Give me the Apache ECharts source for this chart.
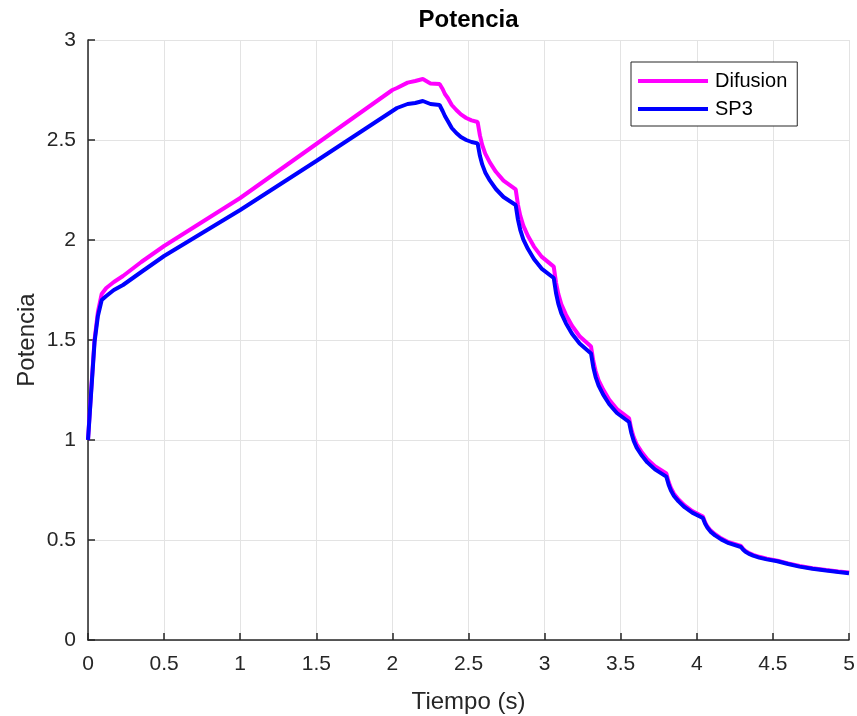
<!DOCTYPE html>
<html>
<head>
<meta charset="utf-8">
<script src="https://cdn.jsdelivr.net/npm/echarts@6/dist/echarts.min.js"></script>
<style>
html,body{margin:0;padding:0;background:#fff;}
#main{width:857px;height:716px;}
</style>
</head>
<body>
<div id="main"></div>
<script>
// Time samples (s)
var tiempo = [0, 0.02, 0.043, 0.065, 0.09, 0.12, 0.17, 0.23, 0.35, 0.5, 0.75, 1.0, 1.5, 2.0, 2.03, 2.1, 2.15, 2.2, 2.25, 2.31,
  2.33, 2.345, 2.364, 2.39, 2.42, 2.45, 2.485, 2.52, 2.56,
  2.575, 2.59, 2.61, 2.64, 2.68, 2.73, 2.81,
  2.825, 2.84, 2.86, 2.89, 2.93, 2.98, 3.06,
  3.075, 3.09, 3.11, 3.14, 3.18, 3.23, 3.305,
  3.32, 3.335, 3.355, 3.385, 3.425, 3.475, 3.555,
  3.57, 3.585, 3.605, 3.635, 3.675, 3.725, 3.80,
  3.815, 3.83, 3.85, 3.88, 3.92, 3.97, 4.04,
  4.055, 4.07, 4.09, 4.12, 4.16, 4.21, 4.29,
  4.305, 4.32, 4.34, 4.37, 4.41, 4.46, 4.53,
  4.6, 4.675, 4.76, 4.85, 4.93, 5.0];
// Difusion
var difusion = [1.0, 1.24, 1.50, 1.64, 1.73, 1.76, 1.79, 1.82, 1.89, 1.97, 2.09, 2.21, 2.48, 2.75, 2.76, 2.787, 2.795, 2.805, 2.783, 2.78,
  2.755, 2.73, 2.71, 2.675, 2.65, 2.628, 2.61, 2.598, 2.59,
  2.523, 2.475, 2.432, 2.388, 2.341, 2.297, 2.253,
  2.176, 2.122, 2.072, 2.021, 1.967, 1.917, 1.867,
  1.787, 1.731, 1.679, 1.627, 1.571, 1.519, 1.467,
  1.395, 1.345, 1.298, 1.252, 1.201, 1.155, 1.108,
  1.053, 1.015, 0.979, 0.943, 0.904, 0.869, 0.833,
  0.79, 0.76, 0.731, 0.703, 0.673, 0.645, 0.617,
  0.588, 0.567, 0.548, 0.529, 0.508, 0.489, 0.47,
  0.455, 0.445, 0.436, 0.426, 0.416, 0.406, 0.397,
  0.383, 0.37, 0.359, 0.35, 0.343, 0.337];
// SP3
var sp3 = [1.0, 1.23, 1.49, 1.62, 1.70, 1.72, 1.75, 1.775, 1.84, 1.92, 2.035, 2.15, 2.395, 2.645, 2.66, 2.68, 2.685, 2.695, 2.68, 2.675,
  2.645, 2.62, 2.595, 2.56, 2.535, 2.515, 2.50, 2.49, 2.483,
  2.421, 2.378, 2.338, 2.298, 2.255, 2.215, 2.175,
  2.102, 2.051, 2.003, 1.956, 1.905, 1.857, 1.81,
  1.735, 1.682, 1.633, 1.584, 1.531, 1.482, 1.433,
  1.364, 1.316, 1.272, 1.227, 1.179, 1.135, 1.09,
  1.035, 0.997, 0.962, 0.926, 0.888, 0.853, 0.817,
  0.776, 0.747, 0.72, 0.693, 0.664, 0.637, 0.61,
  0.581, 0.561, 0.542, 0.523, 0.503, 0.484, 0.465,
  0.451, 0.441, 0.432, 0.422, 0.412, 0.403, 0.394,
  0.380, 0.367, 0.356, 0.347, 0.340, 0.334];
var xTicks = [0, 0.5, 1, 1.5, 2, 2.5, 3, 3.5, 4, 4.5, 5];
var yTicks = [0, 0.5, 1, 1.5, 2, 2.5, 3];

function pairs(t, v) { return t.map(function (x, i) { return [x, v[i]]; }); }

var font = 'Liberation Sans, Arial, Helvetica, sans-serif';
var axisCol = '#262626';
var chart = echarts.init(document.getElementById('main'), null, {renderer: 'canvas'});
chart.setOption({
  animation: false,
  backgroundColor: '#fff',
  graphic: [{
    type: 'text', x: 468.5, y: 20, silent: true,
    style: {text: 'Potencia', textAlign: 'center', textVerticalAlign: 'middle',
      font: 'bold 24px ' + font, fill: '#000'}
  }],
  grid: {left: 88, right: 8, top: 40, bottom: 76, containLabel: false, outerBoundsMode: 'none'},
  legend: {
    orient: 'vertical', left: 631, top: 62,
    padding: [9, 10, 7, 7],
    itemGap: 8,
    itemWidth: 70, itemHeight: 4, icon: 'rect',
    borderColor: axisCol, borderWidth: 1, backgroundColor: '#fff',
    textStyle: {fontFamily: font, fontSize: 20, lineHeight: 20, color: '#000', padding: [0, 0, 0, 2]},
    data: ['Difusion', 'SP3']
  },
  xAxis: {
    type: 'value', min: 0, max: 5, interval: 0.5,
    name: 'Tiempo (s)', nameLocation: 'middle', nameGap: 50, nameMoveOverlap: false,
    nameTextStyle: {fontFamily: font, fontSize: 24, color: axisCol},
    axisLine: {show: true, onZero: false, lineStyle: {color: axisCol, width: 1.5}},
    axisTick: {show: true, inside: true, length: 7, lineStyle: {color: axisCol, width: 1.5}},
    axisLabel: {fontFamily: font, fontSize: 21, color: axisCol, margin: 14,
      formatter: function (v) { return xTicks.indexOf(v) >= 0 ? String(v) : ''; }},
    splitLine: {show: true, lineStyle: {color: '#e3e3e3', width: 1}}
  },
  yAxis: {
    type: 'value', min: 0, max: 3, interval: 0.5,
    name: 'Potencia', nameLocation: 'middle', nameGap: 49, nameMoveOverlap: false,
    nameTextStyle: {fontFamily: font, fontSize: 24, color: axisCol},
    axisLine: {show: true, onZero: false, lineStyle: {color: axisCol, width: 1.5}},
    axisTick: {show: true, inside: true, length: 7, lineStyle: {color: axisCol, width: 1.5}},
    axisLabel: {fontFamily: font, fontSize: 21, color: axisCol, margin: 12,
      formatter: function (v) { return yTicks.indexOf(v) >= 0 ? String(v) : ''; }},
    splitLine: {show: true, lineStyle: {color: '#e3e3e3', width: 1}}
  },
  series: [
    {name: 'Difusion', type: 'line', data: pairs(tiempo, difusion), showSymbol: false, symbol: 'none',
      lineStyle: {color: '#ff00ff', width: 4}, itemStyle: {color: '#ff00ff'}, z: 2},
    {name: 'SP3', type: 'line', data: pairs(tiempo, sp3), showSymbol: false, symbol: 'none',
      lineStyle: {color: '#0000ff', width: 4}, itemStyle: {color: '#0000ff'}, z: 3}
  ]
});
</script>
</body>
</html>
